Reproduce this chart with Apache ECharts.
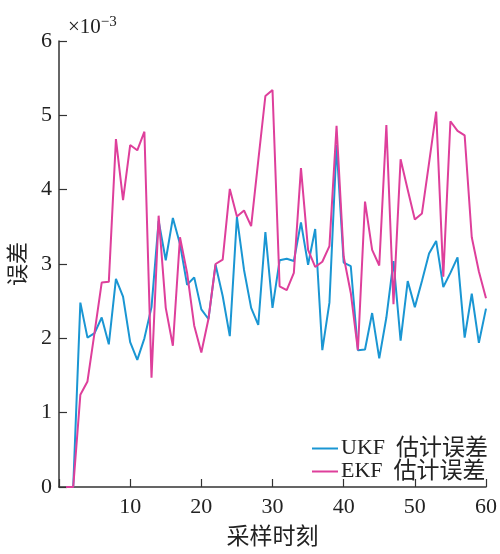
<!DOCTYPE html>
<html>
<head>
<meta charset="utf-8">
<script src="https://cdn.jsdelivr.net/npm/echarts@6/dist/echarts.min.js"></script>
<style>
  html, body { margin: 0; padding: 0; background: #fff; }
  #chart { width: 500px; height: 554px; }
</style>
</head>
<body>
<div id="chart"></div>
<script>
// Sampling instants 1..60
const steps = Array.from({ length: 60 }, (_, i) => i + 1);

// Estimation error, in units of 1e-3
const ukfError = [
  0, 0, 2.48, 2.01, 2.07, 2.28, 1.92, 2.80, 2.56, 1.95,
  1.71, 2.00, 2.42, 3.58, 3.05, 3.62, 3.27, 2.72, 2.82, 2.39,
  2.26, 2.99, 2.57, 2.03, 3.63, 2.92, 2.41, 2.18, 3.43, 2.41,
  3.05, 3.07, 3.04, 3.56, 2.99, 3.47, 1.84, 2.48, 4.60, 3.02,
  2.97, 1.84, 1.85, 2.34, 1.73, 2.28, 3.04, 1.97, 2.77, 2.42,
  2.77, 3.14, 3.31, 2.69, 2.88, 3.09, 2.01, 2.60, 1.94, 2.40
];
const ekfError = [
  0, 0, 1.24, 1.42, 2.08, 2.75, 2.76, 4.68, 3.86, 4.60,
  4.53, 4.78, 1.47, 3.65, 2.41, 1.90, 3.36, 2.88, 2.17, 1.81,
  2.26, 3.00, 3.06, 4.01, 3.64, 3.72, 3.51, 4.39, 5.26, 5.34,
  2.70, 2.65, 2.88, 4.29, 3.19, 2.96, 3.03, 3.24, 4.86, 3.10,
  2.61, 1.84, 3.84, 3.19, 2.98, 4.87, 2.46, 4.41, 4.00, 3.60,
  3.68, 4.36, 5.05, 2.83, 4.92, 4.79, 4.73, 3.36, 2.90, 2.54
];

// Legend entries: filter name + label
const filterNames = ['UKF', 'EKF'];
const legendSuffix = '估计误差';
const seriesNames = filterNames.map((f) => f + ' ' + legendSuffix);
const seriesColors = ['#1a96d3', '#de3f9b'];

const xTicks = [0, 10, 20, 30, 40, 50, 60];
const yTicks = [0, 1, 2, 3, 4, 5, 6];

const serif = '"Liberation Serif", "Noto Sans CJK SC", serif';
const axisColor = '#333';
const textColor = '#222';

const pairs = (ys) => steps.map((x, i) => [x, ys[i]]);

const chart = echarts.init(document.getElementById('chart'), null, { renderer: 'canvas' });

chart.setOption({
  animation: false,
  backgroundColor: '#fff',
  grid: { left: 59, right: 12, top: 41, bottom: 61, containLabel: false },
  xAxis: {
    type: 'value',
    min: xTicks[0],
    max: xTicks[xTicks.length - 1],
    interval: 10,
    name: '采样时刻',
    nameLocation: 'middle',
    nameGap: 39,
    nameTextStyle: { fontFamily: serif, fontSize: 23, color: textColor },
    axisLine: { show: true, lineStyle: { color: axisColor, width: 1.5 } },
    axisTick: { show: true, inside: true, length: 8, lineStyle: { color: axisColor, width: 1.2 } },
    axisLabel: {
      fontFamily: serif, fontSize: 22, color: textColor, margin: 9,
      formatter: (v) => (v === 0 ? '' : String(v))
    },
    splitLine: { show: false }
  },
  yAxis: {
    type: 'value',
    min: yTicks[0],
    max: yTicks[yTicks.length - 1],
    interval: 1,
    name: '误差',
    nameLocation: 'middle',
    nameGap: 26,
    nameRotate: 90,
    nameTextStyle: { fontFamily: serif, fontSize: 22, color: textColor },
    axisLine: { show: true, lineStyle: { color: axisColor, width: 1.5 } },
    axisTick: { show: true, inside: true, length: 8, lineStyle: { color: axisColor, width: 1.2 } },
    axisLabel: { fontFamily: serif, fontSize: 22, color: textColor, margin: 7, padding: [4, 0, 0, 0] },
    splitLine: { show: false }
  },
  legend: {
    orient: 'vertical',
    right: 12,
    top: 437,
    padding: 0,
    itemWidth: 26,
    itemHeight: 2,
    itemGap: 0,
    icon: 'rect',
    formatter: (name) => {
      const parts = name.split(' ');
      return '{a|' + parts[0] + '}{c|' + parts[1] + '}';
    },
    textStyle: {
      color: textColor,
      padding: [0, 0, 0, -2],
      rich: {
        a: { fontFamily: serif, fontSize: 22, lineHeight: 24, color: textColor },
        c: { fontFamily: serif, fontSize: 23, lineHeight: 24, color: textColor, padding: [0, 0, 0, 11] }
      }
    },
    data: seriesNames
  },
  graphic: [{
    type: 'text',
    left: 68,
    top: 15,
    style: {
      text: '{b|×10}{s|−3}',
      rich: {
        b: { fontFamily: serif, fontSize: 21, fill: textColor, verticalAlign: 'bottom' },
        s: { fontFamily: serif, fontSize: 15, fill: textColor, verticalAlign: 'top', padding: [0, 0, 8, 0] }
      }
    }
  }],
  series: [
    {
      name: seriesNames[0],
      type: 'line',
      data: pairs(ukfError),
      showSymbol: false,
      symbol: 'none',
      lineStyle: { color: seriesColors[0], width: 2 },
      itemStyle: { color: seriesColors[0] },
      z: 2
    },
    {
      name: seriesNames[1],
      type: 'line',
      data: pairs(ekfError),
      showSymbol: false,
      symbol: 'none',
      lineStyle: { color: seriesColors[1], width: 2 },
      itemStyle: { color: seriesColors[1] },
      z: 3
    }
  ]
});
</script>
</body>
</html>
